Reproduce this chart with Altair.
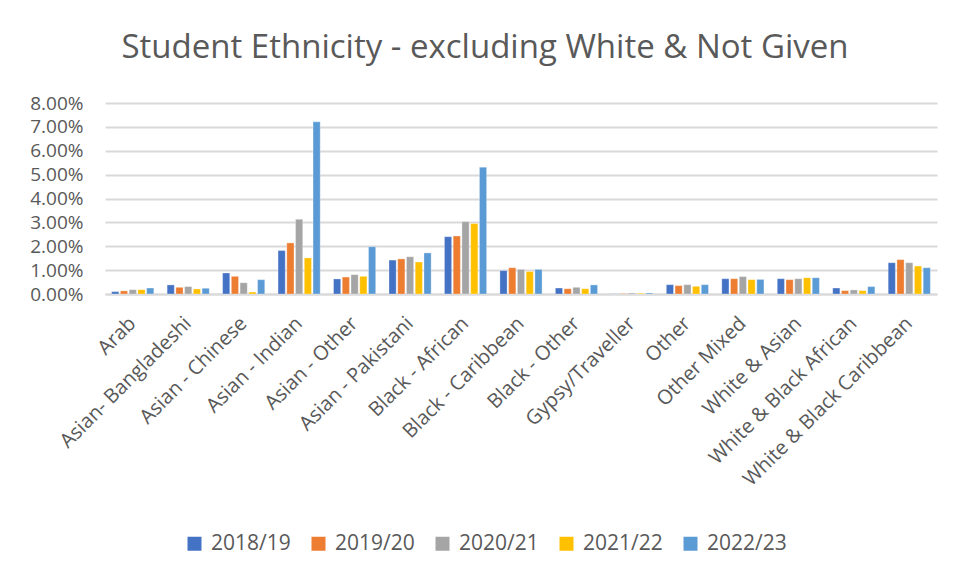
import altair as alt
import pandas as pd

categories = ["Arab", "Asian- Bangladeshi", "Asian - Chinese", "Asian - Indian", "Asian - Other",
              "Asian - Pakistani", "Black - African", "Black - Caribbean", "Black - Other",
              "Gypsy/Traveller", "Other", "Other Mixed", "White & Asian",
              "White & Black African", "White & Black Caribbean"]
years = ["2018/19", "2019/20", "2020/21", "2021/22", "2022/23"]

v2018 = [0.10, 0.38, 0.88, 1.82, 0.63, 1.42, 2.40, 0.98, 0.25, 0.01, 0.39, 0.64, 0.64, 0.25, 1.31]
v2019 = [0.13, 0.28, 0.74, 2.14, 0.71, 1.47, 2.43, 1.10, 0.22, 0.02, 0.35, 0.64, 0.60, 0.14, 1.44]
v2020 = [0.18, 0.31, 0.47, 3.13, 0.81, 1.56, 3.03, 1.03, 0.28, 0.04, 0.39, 0.73, 0.64, 0.17, 1.31]
v2021 = [0.18, 0.21, 0.08, 1.51, 0.74, 1.34, 2.95, 0.94, 0.22, 0.03, 0.32, 0.60, 0.68, 0.14, 1.17]
v2022 = [0.25, 0.24, 0.60, 7.21, 1.98, 1.72, 5.31, 1.03, 0.38, 0.04, 0.39, 0.61, 0.68, 0.31, 1.10]
colors = ["#4472C4", "#ED7D31", "#A5A5A5", "#FFC000", "#5B9BD5"]

series = [v2018, v2019, v2020, v2021, v2022]
rows = []
for y, vals in zip(years, series):
    for c, v in zip(categories, vals):
        rows.append({"Ethnicity": c, "Year": y, "Share": v / 100})
df = pd.DataFrame(rows)

FONT = "Open Sans"
GREY = "#595959"

chart = alt.Chart(df).mark_bar(stroke="white", strokeWidth=0.6, strokeOpacity=0.5).encode(
    x=alt.X("Ethnicity:N", sort=categories, title=None,
            scale=alt.Scale(paddingInner=0.24, paddingOuter=0.12),
            axis=alt.Axis(labelAngle=-45, labelAlign="right", labelBaseline="middle",
                          labelFontSize=20, labelColor=GREY, labelFont=FONT,
                          ticks=False, domainColor="#d9d9d9", domainWidth=2,
                          labelPadding=26, labelLimit=300)),
    xOffset=alt.XOffset("Year:N", sort=years, scale=alt.Scale(paddingInner=0.18)),
    y=alt.Y("Share:Q", title=None,
            scale=alt.Scale(domain=[0, 0.08], nice=False),
            axis=alt.Axis(format=".2%", values=[i / 100 for i in range(9)],
                          labelFontSize=19, labelColor=GREY, labelFont=FONT,
                          ticks=False, domain=False, labelPadding=22,
                          gridColor="#d9d9d9", gridWidth=2)),
    color=alt.Color("Year:N", sort=years,
                    scale=alt.Scale(domain=years, range=colors),
                    legend=alt.Legend(title=None, orient="none", legendX=79, legendY=430,
                                      direction="horizontal", columns=5,
                                      symbolType="square", symbolSize=196,
                                      symbolStrokeWidth=0, labelFontSize=21,
                                      labelColor=GREY, labelFont=FONT,
                                      columnPadding=17, labelOffset=6, padding=0)),
).properties(
    width=832, height=191,
    title=alt.TitleParams("Student Ethnicity - excluding White & Not Given",
                          font=FONT, fontSize=33, fontWeight="normal", color=GREY,
                          anchor="middle", dx=-36, offset=29),
    autosize=alt.AutoSizeParams(type="none"),
    padding={"left": 105, "top": 103, "right": 19, "bottom": 282},
).configure_view(stroke=None)

chart.save("out.html", embed_options={"renderer": "svg", "actions": False})
